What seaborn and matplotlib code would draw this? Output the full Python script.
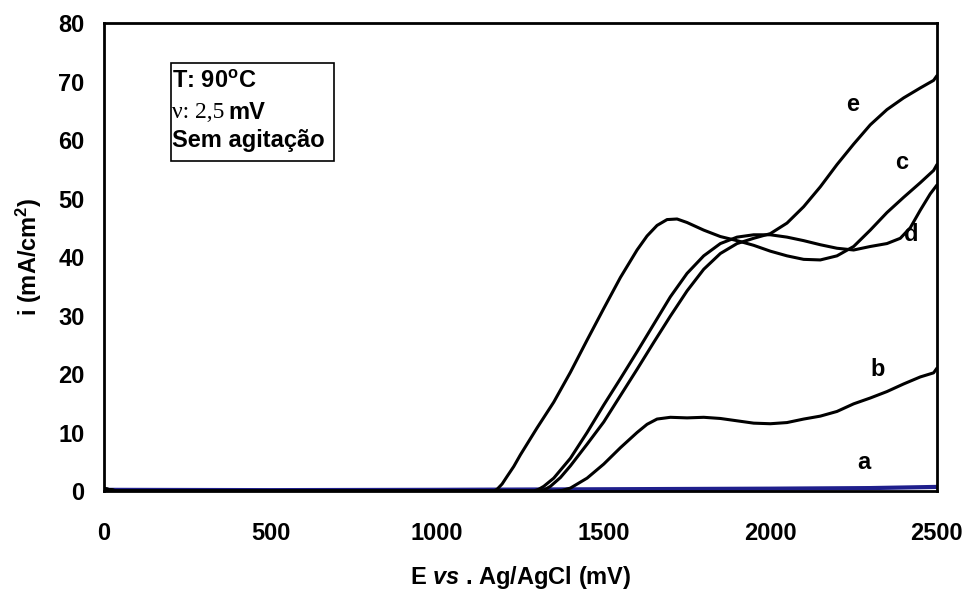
import pandas as pd
import seaborn as sns
import matplotlib.pyplot as plt
from matplotlib.ticker import MultipleLocator

# curve a (blue, near zero)
e_a = [0, 500, 1000, 1500, 2000, 2300, 2500]
i_a = [0.2, 0.15, 0.2, 0.3, 0.4, 0.5, 0.7]

# curve b
e_b = [0, 40, 1350, 1375, 1400, 1450, 1500, 1550, 1600, 1630, 1660, 1700, 1750, 1800,
       1850, 1900, 1950, 2000, 2050, 2100, 2150, 2200, 2250, 2300, 2350, 2400, 2450,
       2490, 2500]
i_b = [0.4, 0.0, 0.0, 0.1, 0.5, 2.2, 4.6, 7.4, 10.0, 11.4, 12.3, 12.6, 12.5, 12.6,
       12.4, 12.0, 11.6, 11.5, 11.7, 12.3, 12.8, 13.6, 14.9, 15.9, 17.0, 18.3, 19.5,
       20.2, 21.0]

# curve c (peak near 1700 mV)
e_c = [0, 40, 1170, 1180, 1195, 1210, 1230, 1250, 1300, 1350, 1400, 1450, 1500, 1550,
       1600, 1630, 1660, 1690, 1720, 1750, 1800, 1850, 1900, 1950, 2000, 2050, 2100,
       2150, 2200, 2250, 2300, 2350, 2400, 2450, 2490, 2500]
i_c = [0.4, 0.0, 0.0, 0.3, 1.2, 2.5, 4.2, 6.2, 10.8, 15.2, 20.3, 25.8, 31.2, 36.5,
       41.2, 43.6, 45.4, 46.4, 46.5, 45.9, 44.6, 43.5, 42.8, 42.0, 41.0, 40.2, 39.6,
       39.5, 40.2, 41.8, 44.6, 47.6, 50.2, 52.7, 54.8, 55.8]

# curve d
e_d = [0, 40, 1290, 1305, 1320, 1350, 1400, 1450, 1500, 1550, 1600, 1650, 1700, 1750,
       1800, 1850, 1900, 1950, 2000, 2050, 2100, 2150, 2200, 2250, 2300, 2350, 2390,
       2420, 2450, 2480, 2500]
i_d = [0.4, 0.0, 0.0, 0.3, 0.8, 2.2, 5.6, 10.0, 14.7, 19.2, 23.8, 28.5, 33.2, 37.2,
       40.2, 42.3, 43.4, 43.8, 43.8, 43.4, 42.8, 42.1, 41.5, 41.2, 41.8, 42.3, 43.2,
       45.0, 48.0, 50.8, 52.3]

# curve e
e_e = [0, 40, 1310, 1325, 1340, 1370, 1400, 1450, 1500, 1550, 1600, 1650, 1700, 1750,
       1800, 1850, 1900, 1950, 2000, 2050, 2100, 2150, 2200, 2250, 2300, 2350, 2400,
       2450, 2490, 2500]
i_e = [0.4, 0.0, 0.0, 0.3, 0.8, 2.3, 4.3, 8.0, 11.8, 16.3, 20.8, 25.4, 29.9, 34.2,
       37.9, 40.6, 42.3, 43.2, 44.0, 45.8, 48.6, 52.0, 55.8, 59.3, 62.6, 65.2, 67.2,
       68.9, 70.2, 71.0]

labels = ["a", "b", "c", "d", "e"]
label_pos = [(2280, 4.8), (2323, 20.7), (2395, 56.2), (2422, 43.8), (2248, 66.0)]

frames = []
for name, xs, ys in zip(labels, [e_a, e_b, e_c, e_d, e_e], [i_a, i_b, i_c, i_d, i_e]):
    frames.append(pd.DataFrame({"E": xs, "i": ys, "curva": name}))
df = pd.concat(frames, ignore_index=True)

sns.set_style("white")
plt.rcParams["font.family"] = ["Liberation Sans", "DejaVu Sans"]
plt.rcParams["mathtext.fontset"] = "custom"
plt.rcParams["mathtext.rm"] = "Liberation Sans"
plt.rcParams["mathtext.it"] = "Liberation Sans:italic"
plt.rcParams["mathtext.bf"] = "Liberation Sans:bold"
plt.rcParams["mathtext.bfit"] = "Liberation Sans:bold:italic"
for key in ["text.color", "axes.labelcolor", "xtick.color", "ytick.color"]:
    plt.rcParams[key] = "black"

fs = 17

fig = plt.figure(figsize=(9.68, 5.92), dpi=100)
ax = fig.add_axes([0.1074, 0.1706, 0.8605, 0.7905])

palette = {"a": "#1f1f8c", "b": "black", "c": "black", "d": "black", "e": "black"}
sns.lineplot(data=df[df.curva == "a"], x="E", y="i", color=palette["a"], lw=3,
             sort=False, estimator=None, ax=ax)
sns.lineplot(data=df[df.curva != "a"], x="E", y="i", hue="curva", palette=palette,
             lw=2.2, sort=False, estimator=None, legend=False, ax=ax)

for name, (x, y) in zip(labels, label_pos):
    ax.text(x, y, name, fontsize=fs, fontweight="bold", ha="center", va="center")

ax.set_xlim(0, 2500)
ax.set_ylim(0, 80)
ax.xaxis.set_major_locator(MultipleLocator(500))
ax.xaxis.set_minor_locator(MultipleLocator(50))
ax.yaxis.set_major_locator(MultipleLocator(10))
ax.yaxis.set_minor_locator(MultipleLocator(2))
ax.tick_params(which="major", direction="in", length=7, width=1.2, labelsize=fs)
ax.tick_params(which="minor", direction="in", length=4, width=1)
ax.tick_params(axis="x", which="major", pad=22)
ax.tick_params(axis="y", which="major", pad=14)
for lab in ax.get_xticklabels() + ax.get_yticklabels():
    lab.set_fontweight("bold")
for sp in ax.spines.values():
    sp.set_linewidth(2)
    sp.set_color("black")

ax.set_xlabel(r"E $\mathbfit{vs}$ . Ag/AgCl (mV)", fontsize=fs, fontweight="bold", labelpad=14)
ax.set_ylabel(r"i (mA/cm$^\mathbf{2}$)", fontsize=fs, fontweight="bold", labelpad=10)

# info box
ax.text(0.082, 0.875, "T: 90$^\\mathbf{o}$C", transform=ax.transAxes, fontsize=fs,
        fontweight="bold", va="center")
ax.text(0.082, 0.809, "\u03bd: 2,5", transform=ax.transAxes, fontsize=fs,
        family="Liberation Serif", va="center")
ax.text(0.149, 0.809, "mV", transform=ax.transAxes, fontsize=fs,
        fontweight="bold", va="center")
ax.text(0.082, 0.748, "Sem agitação", transform=ax.transAxes, fontsize=fs,
        fontweight="bold", va="center")
box = plt.Rectangle((0.0805, 0.7055), 0.196, 0.2095, transform=ax.transAxes,
                    fill=False, lw=1.2, edgecolor="black")
ax.add_patch(box)

fig.savefig("out.png", dpi=100)
